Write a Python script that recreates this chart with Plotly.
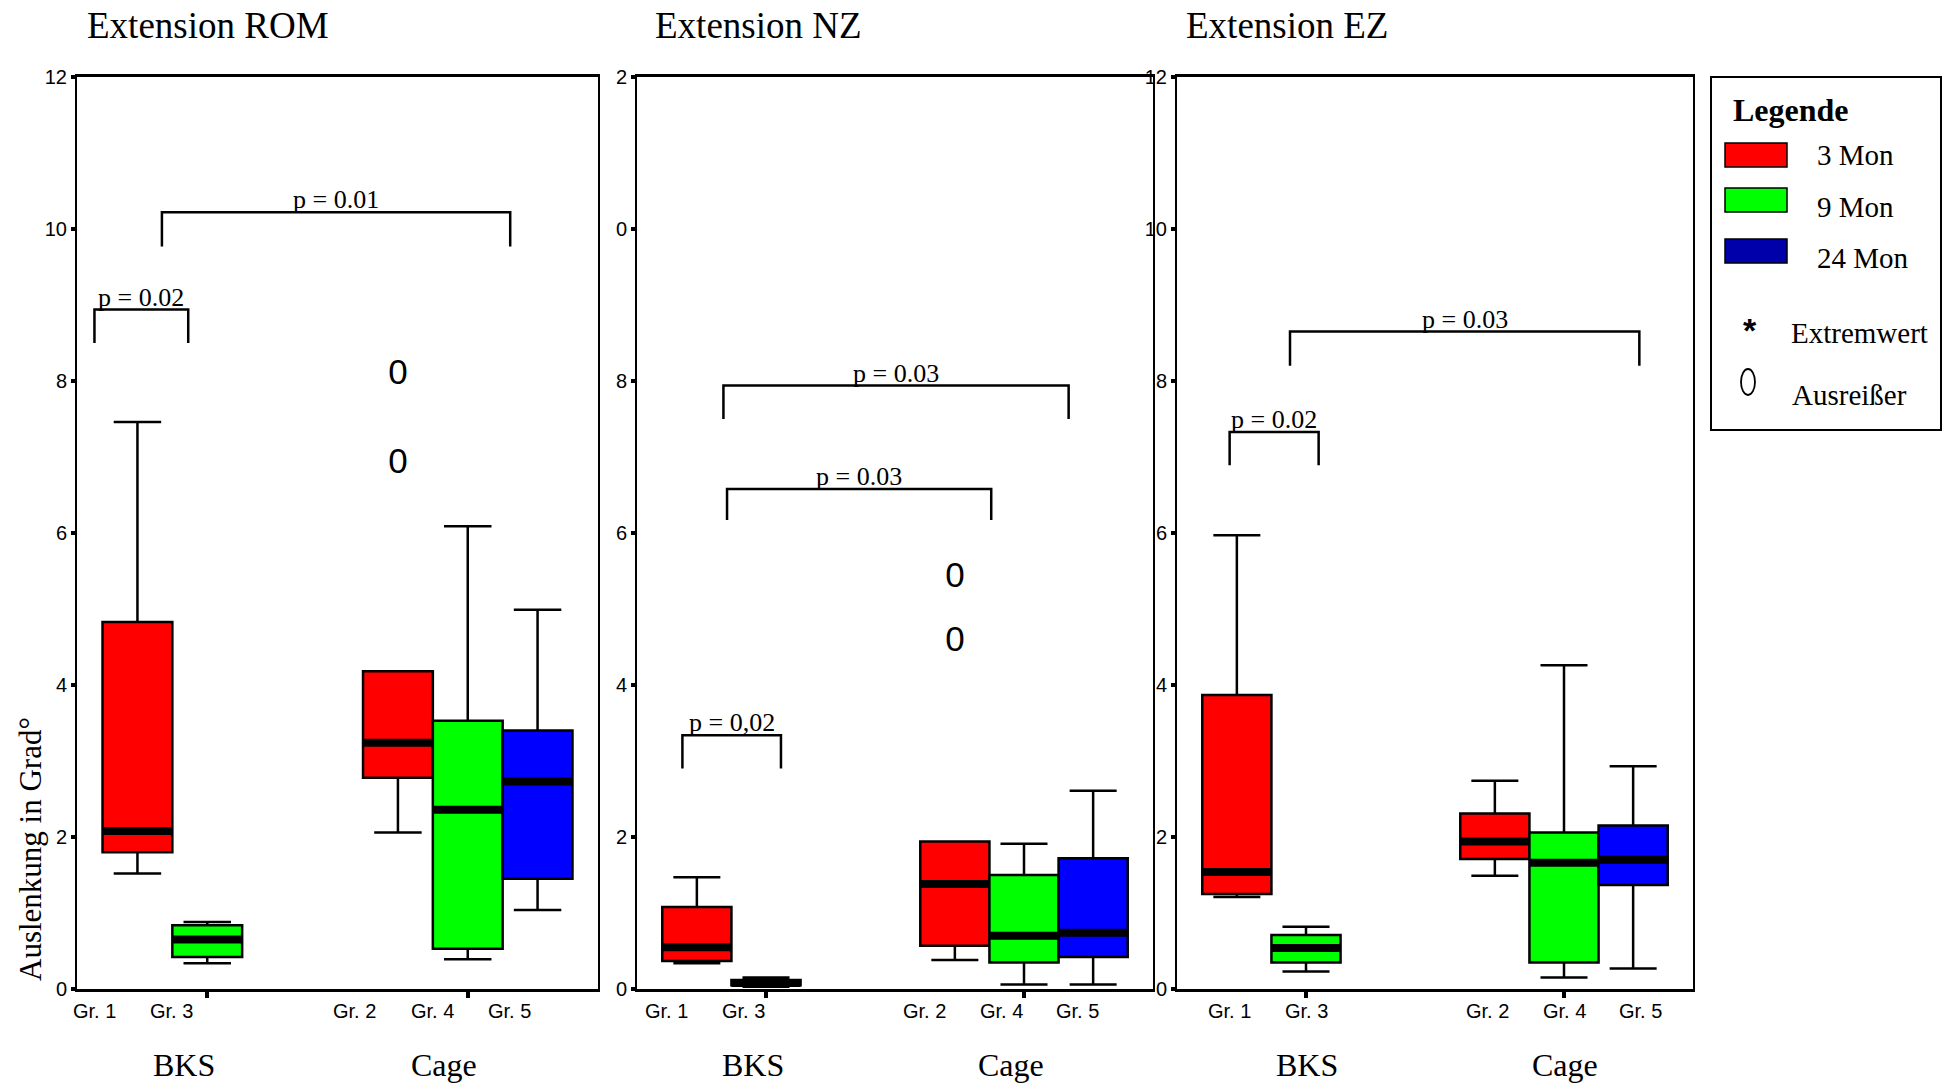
import plotly.graph_objects as go

W, H = 1951, 1089

# ---------------- data ----------------
categories = ["BKS", "Cage"]
series_names = ["3 Mon", "9 Mon", "24 Mon"]
series_colors = ["#FF0000", "#00FF00", "#0000FF"]
legend_colors = ["#FF0000", "#00FF00", "#0000AA"]

groups = ["Gr. 1", "Gr. 3", "Gr. 2", "Gr. 4", "Gr. 5"]
group_category = [0, 0, 1, 1, 1]
group_series = [0, 1, 0, 1, 2]

panel_titles = ["Extension ROM", "Extension NZ", "Extension EZ"]

# Extension ROM
rom_lower = [1.52, 0.34, 2.06, 0.39, 1.04]
rom_q1 = [1.80, 0.42, 2.78, 0.53, 1.45]
rom_median = [2.08, 0.65, 3.24, 2.36, 2.73]
rom_q3 = [4.83, 0.84, 4.18, 3.53, 3.40]
rom_upper = [7.46, 0.88, 4.18, 6.09, 4.99]
rom_outliers = {"Gr. 2": [6.90, 8.07]}

# Extension NZ
nz_lower = [0.34, 0.03, 0.38, 0.06, 0.06]
nz_q1 = [0.37, 0.05, 0.57, 0.35, 0.42]
nz_median = [0.55, 0.08, 1.38, 0.70, 0.74]
nz_q3 = [1.08, 0.12, 1.94, 1.50, 1.72]
nz_upper = [1.47, 0.15, 1.94, 1.91, 2.61]
nz_outliers = {"Gr. 2": [4.56, 5.41]}

# Extension EZ
ez_lower = [1.21, 0.23, 1.49, 0.15, 0.27]
ez_q1 = [1.25, 0.35, 1.71, 0.35, 1.37]
ez_median = [1.54, 0.54, 1.94, 1.66, 1.70]
ez_q3 = [3.87, 0.71, 2.31, 2.06, 2.15]
ez_upper = [5.97, 0.82, 2.74, 4.26, 2.93]
ez_outliers = {}

y_tickvals = [0, 2, 4, 6, 8, 10, 12]
y_ticktext = [
    ["0", "2", "4", "6", "8", "10", "12"],
    ["0", "2", "4", "6", "8", "0", "2"],
    ["0", "2", "4", "6", "8", "10", "12"],
]

# significance brackets: (x_left, x_right, leg_bottom, top, label)
rom_brackets = [(-0.433, -0.073, 8.50, 8.94, "p = 0.02"),
                (-0.174, 1.163, 9.77, 10.22, "p = 0.01")]
nz_brackets = [(-0.324, 0.058, 2.90, 3.34, "p = 0,02"),
               (-0.151, 0.873, 6.17, 6.58, "p = 0.03"),
               (-0.165, 1.173, 7.50, 7.94, "p = 0.03")]
ez_brackets = [(-0.296, 0.049, 6.89, 7.33, "p = 0.02"),
               (-0.062, 1.292, 8.20, 8.65, "p = 0.03")]

panels = [
    dict(lower=rom_lower, q1=rom_q1, med=rom_median, q3=rom_q3, upper=rom_upper,
         outliers=rom_outliers, brackets=rom_brackets),
    dict(lower=nz_lower, q1=nz_q1, med=nz_median, q3=nz_q3, upper=nz_upper,
         outliers=nz_outliers, brackets=nz_brackets),
    dict(lower=ez_lower, q1=ez_q1, med=ez_median, q3=ez_q3, upper=ez_upper,
         outliers=ez_outliers, brackets=ez_brackets),
]

# ---------------- layout constants (screen px) ----------------
SERIF = "Liberation Serif, Times New Roman, serif"
SANS = "Liberation Sans, Arial, sans-serif"
BOX_W = 0.268
LABEL_STEP = 0.297
panel_px = [(77, 598), (637, 1153), (1177, 1693)]
title_px = [85, 653, 1184]
gr_label_shift = [-0.137, -0.088, 0.0]
cat_label_shift = [-0.09, -0.05, 0.005]
Y_TOP_PX, Y_BOT_PX = 77, 989


def px_x(px):
    return px / W


def px_y(py):
    return 1 - py / H


fig = go.Figure()
annotations = []
shapes = []

for i, p in enumerate(panels):
    ax = "" if i == 0 else str(i + 1)
    xref, yref = "x" + ax, "y" + ax
    positions = [group_category[k] + (group_series[k] - 1) * BOX_W for k in range(len(groups))]
    for k, g in enumerate(groups):
        pos = positions[k]
        col = series_colors[group_series[k]]
        fig.add_trace(go.Box(
            x=[pos], q1=[p["q1"][k]], median=[p["med"][k]], q3=[p["q3"][k]],
            lowerfence=[p["lower"][k]], upperfence=[p["upper"][k]],
            width=BOX_W, whiskerwidth=0.68, fillcolor=col,
            line=dict(color="black", width=2.5), boxpoints=False,
            showlegend=False, hoverinfo="skip", xaxis=xref, yaxis=yref))
        fig.add_trace(go.Scatter(
            x=[pos - BOX_W / 2, pos + BOX_W / 2], y=[p["med"][k], p["med"][k]],
            mode="lines", line=dict(color="black", width=8),
            showlegend=False, hoverinfo="skip", xaxis=xref, yaxis=yref))
        if g in p["outliers"]:
            vals = p["outliers"][g]
            fig.add_trace(go.Scatter(
                x=[pos] * len(vals), y=vals, mode="text", text=["0"] * len(vals),
                textfont=dict(family=SANS, size=35, color="black"),
                showlegend=False, hoverinfo="skip", xaxis=xref, yaxis=yref))
        slot = group_series[k] - 1
        annotations.append(dict(
            x=group_category[k] + slot * LABEL_STEP + gr_label_shift[i], y=px_y(1011),
            xref=xref, yref="paper", xanchor="center", yanchor="middle",
            text=g, showarrow=False, font=dict(family=SANS, size=20, color="black")))
    for c, cname in enumerate(categories):
        annotations.append(dict(
            x=c + cat_label_shift[i], y=px_y(1065), xref=xref, yref="paper",
            xanchor="center", yanchor="middle",
            text=cname, showarrow=False, font=dict(family=SERIF, size=32, color="black")))
    for (x0, x1, yb, yt, lab) in p["brackets"]:
        fig.add_trace(go.Scatter(
            x=[x0, x0, x1, x1], y=[yb, yt, yt, yb], mode="lines",
            line=dict(color="black", width=2.5), showlegend=False, hoverinfo="skip",
            xaxis=xref, yaxis=yref))
        annotations.append(dict(
            x=(x0 + x1) / 2, y=yt, xref=xref, yref=yref, text=lab, showarrow=False,
            xanchor="center", yanchor="bottom", yshift=-4,
            font=dict(family=SERIF, size=26, color="black")))
    annotations.append(dict(
        x=px_x(title_px[i]), y=px_y(25), xref="paper", yref="paper",
        xanchor="left", yanchor="middle",
        text=panel_titles[i], showarrow=False, font=dict(family=SERIF, size=37, color="black")))

    x0px, x1px = panel_px[i]
    fig.update_layout(**{
        "xaxis" + ax: dict(
            domain=[px_x(x0px), px_x(x1px)], range=[-0.5, 1.5], tickvals=[0, 1],
            ticktext=["", ""], ticks="outside", ticklen=6, tickwidth=4, tickcolor="black",
            showline=True, linewidth=3, linecolor="black", mirror=True,
            showgrid=False, zeroline=False, fixedrange=True, anchor=yref, automargin=False),
        "yaxis" + ax: dict(
            domain=[px_y(Y_BOT_PX), px_y(Y_TOP_PX)], range=[0, 12], tickvals=y_tickvals,
            ticktext=y_ticktext[i], ticks="outside", ticklen=4, tickwidth=4,
            tickcolor="black", tickfont=dict(family=SANS, size=20, color="black"),
            ticklabelstandoff=0,
            showline=True, linewidth=2, linecolor="black", mirror=True,
            showgrid=False, zeroline=False, fixedrange=True, anchor=xref, automargin=False),
    })

annotations.append(dict(
    x=px_x(30), y=px_y(849), xref="paper", yref="paper", xanchor="center", yanchor="middle",
    text="Auslenkung in Grad°", textangle=-90, showarrow=False,
    font=dict(family=SERIF, size=31, color="black")))

# ---------------- legend (drawn) ----------------
shapes.append(dict(type="rect", xref="paper", yref="paper",
                   x0=px_x(1711), x1=px_x(1941), y0=px_y(430), y1=px_y(77),
                   line=dict(color="black", width=2), fillcolor="white"))
annotations.append(dict(x=px_x(1731), y=px_y(110), xref="paper", yref="paper",
                        xanchor="left", yanchor="middle", text="<b>Legende</b>", showarrow=False,
                        font=dict(family=SERIF, size=32, color="black")))
swatch_y = [155, 200, 251]
text_y = [155, 207, 258]
for s, name in enumerate(series_names):
    shapes.append(dict(type="rect", xref="paper", yref="paper",
                       x0=px_x(1725), x1=px_x(1787),
                       y0=px_y(swatch_y[s] + 12), y1=px_y(swatch_y[s] - 12),
                       line=dict(color="black", width=1.5), fillcolor=legend_colors[s]))
    annotations.append(dict(x=px_x(1815), y=px_y(text_y[s]), xref="paper", yref="paper",
                            xanchor="left", yanchor="middle", text=name, showarrow=False,
                            font=dict(family=SERIF, size=29, color="black")))
annotations.append(dict(x=px_x(1750), y=px_y(330), xref="paper", yref="paper",
                        xanchor="center", yanchor="middle", text="<b>*</b>", showarrow=False,
                        font=dict(family=SANS, size=34, color="black")))
annotations.append(dict(x=px_x(1789), y=px_y(333), xref="paper", yref="paper",
                        xanchor="left", yanchor="middle", text="Extremwert", showarrow=False,
                        font=dict(family=SERIF, size=29, color="black")))
shapes.append(dict(type="circle", xref="paper", yref="paper",
                   x0=px_x(1741), x1=px_x(1755), y0=px_y(395), y1=px_y(369),
                   line=dict(color="black", width=1.8)))
annotations.append(dict(x=px_x(1790), y=px_y(395), xref="paper", yref="paper",
                        xanchor="left", yanchor="middle", text="Ausreißer", showarrow=False,
                        font=dict(family=SERIF, size=29, color="black")))

fig.update_layout(
    width=W, height=H, margin=dict(l=0, r=0, t=0, b=0, autoexpand=False),
    paper_bgcolor="white", plot_bgcolor="white",
    annotations=annotations, shapes=shapes, showlegend=False, boxmode="overlay",
)

fig.write_html(
    "out.html",
    config={"displayModeBar": False},
    post_script="document.body.style.margin='0px';document.body.style.overflow='hidden';",
)
